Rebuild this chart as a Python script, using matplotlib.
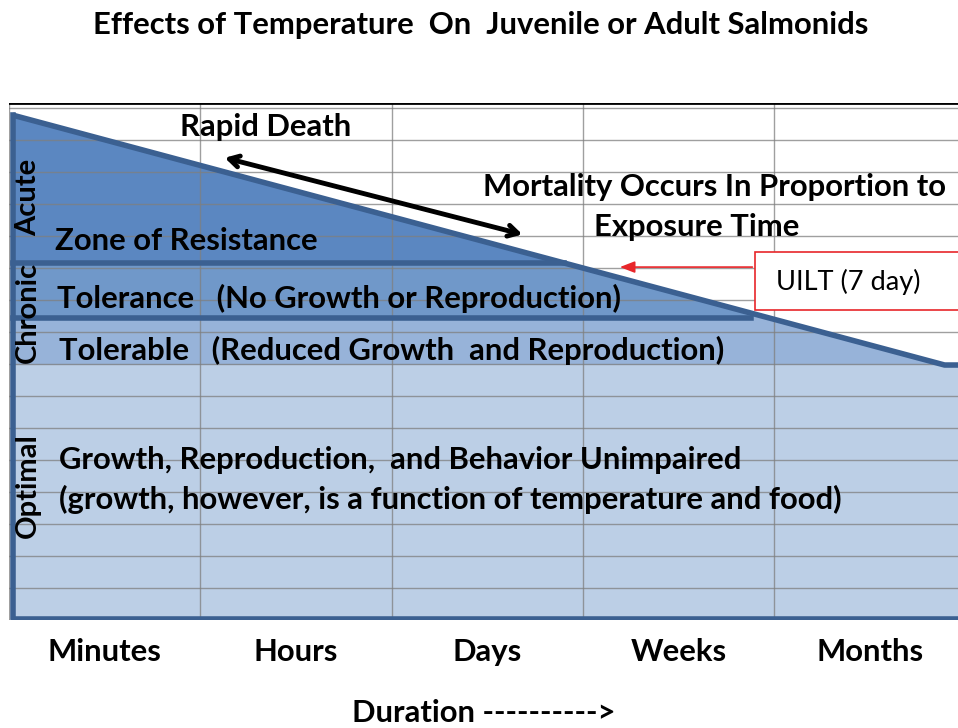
import matplotlib
matplotlib.use("Agg")
import matplotlib.pyplot as plt
from matplotlib.patches import Polygon, Rectangle

# ---- data (x in duration columns, y in grid rows) ----
categories = ["Minutes", "Hours", "Days", "Weeks", "Months"]
n_rows = 16
x_max = 4.96
y_max = 16.16

# lethal boundary (upper incipient line) endpoints: (x, y)
lethal_start = (0.02, 15.78)
lethal_end = (4.89, 7.97)

# zone boundaries (rows)
acute_bottom = 11.16       # top of Tolerance band
tolerance_bottom = 9.44    # top of Tolerable band
chronic_bottom = 7.97      # top of Optimal region
tolerance_right = 3.88     # right end of tolerance band line

zone_labels = ["Acute", "Chronic", "Optimal"]
zone_label_y = [13.2, 9.6, 4.2]

uilt_label = "UILT (7 day)"
title = "Effects of Temperature  On  Juvenile or Adult Salmonids"
xlabel = "Duration ---------->"

# ---- styles ----
c_acute = "#5b87c1"
c_tol = "#7098c9"
c_tolerable = "#97b3d9"
c_opt = "#bccfe6"
c_edge = "#3b6091"
grid_c = "#7f7f7f"
FONT = "Lato"

fig = plt.figure(figsize=(9.58, 7.28), dpi=100)
ax = fig.add_axes([9 / 958, 108 / 728, 949 / 958, 517 / 728])
ax.set_xlim(0, x_max)
ax.set_ylim(0, y_max)

def px(xp):
    return (xp - 9) / 191.3

def py(yp):
    return (620 - yp) / 32

# main shape
shape = [lethal_start, lethal_end, (x_max + 0.1, lethal_end[1]),
         (x_max + 0.1, 0), (lethal_start[0], 0)]
poly = Polygon(shape, closed=True, facecolor=c_acute, edgecolor="none", zorder=1)
ax.add_patch(poly)

bands = [
    (tolerance_bottom, acute_bottom, c_tol),
    (chronic_bottom, tolerance_bottom, c_tolerable),
    (0, chronic_bottom, c_opt),
]
for lo, hi, col in bands:
    r = Rectangle((0, lo), x_max + 0.2, hi - lo, facecolor=col, edgecolor="none", zorder=1.5)
    ax.add_patch(r)
    r.set_clip_path(poly)
r = Rectangle((tolerance_right, tolerance_bottom), x_max, acute_bottom - tolerance_bottom,
              facecolor=c_tolerable, edgecolor="none", zorder=1.6)
ax.add_patch(r)
r.set_clip_path(poly)

# grid
for i in range(n_rows + 1):
    ax.axhline(i, color=grid_c, lw=1.0, alpha=0.75, zorder=2)
for j in range(len(categories)):
    ax.axvline(j, color=grid_c, lw=1.0, alpha=0.75, zorder=2)
ax.axhline(y_max, color="black", lw=2.0, zorder=2)

# outlines
lw_edge = 4.0
ax.plot([lethal_start[0], lethal_end[0], x_max + 0.1],
        [lethal_start[1], lethal_end[1], lethal_end[1]], color=c_edge, lw=lw_edge,
        solid_capstyle="butt", zorder=3)
ax.plot([lethal_start[0], lethal_start[0], x_max + 0.1],
        [lethal_start[1], 0.04, 0.04], color=c_edge, lw=lw_edge, zorder=3)
slope = (lethal_end[1] - lethal_start[1]) / (lethal_end[0] - lethal_start[0])
x_int = lethal_start[0] + (acute_bottom - lethal_start[1]) / slope
ax.plot([lethal_start[0], x_int], [acute_bottom, acute_bottom], color=c_edge, lw=lw_edge, zorder=3)
ax.plot([lethal_start[0], tolerance_right], [tolerance_bottom, tolerance_bottom],
        color=c_edge, lw=lw_edge, zorder=3)

# rapid death arrow
ax.annotate("", xy=(px(222), py(157)), xytext=(px(525), py(235)),
            arrowprops=dict(arrowstyle="<->,head_length=0.7,head_width=0.4", color="black", lw=3.5),
            zorder=5)

fs = 22.3
tk = dict(fontfamily=FONT, fontweight="bold", fontsize=fs, color="black", zorder=6)
ax.text(px(180), py(127), "Rapid Death", ha="left", va="center", **tk)
ax.text(px(483), py(187), "Mortality Occurs In Proportion to", ha="left", va="center", **tk)
ax.text(px(697), py(227), "Exposure Time", ha="center", va="center", **tk)
ax.text(px(55), py(241), "Zone of Resistance", ha="left", va="center", **tk)
ax.text(px(57), py(298), "Tolerance   (No Growth or Reproduction)", ha="left", va="center", **tk)
ax.text(px(59), py(350), "Tolerable   (Reduced Growth  and Reproduction)", ha="left", va="center", **tk)
ax.text(px(59), py(460), "Growth, Reproduction,  and Behavior Unimpaired", ha="left", va="center", **tk)
ax.text(px(59), py(499), "(growth, however, is a function of temperature and food)", ha="left", va="center", **tk)

for lab, yy in zip(zone_labels, zone_label_y):
    ax.text(px(28), yy, lab, ha="center", va="center", rotation=90,
            fontfamily=FONT, fontweight="bold", fontsize=21, color="black", zorder=6)

# UILT callout
box = Rectangle((px(755), py(310)), px(990) - px(755), py(252) - py(310),
                facecolor="white", edgecolor="#e8262a", lw=1.2, zorder=6, clip_on=False)
ax.add_patch(box)
ax.text(px(776), py(282), uilt_label, ha="left", va="center", fontfamily=FONT,
        fontsize=19.5, color="black", zorder=7)
ax.annotate("", xy=(px(617), py(267)), xytext=(px(755), py(267)),
            arrowprops=dict(arrowstyle="-|>,head_length=0.9,head_width=0.35", color="#e8262a", lw=1.2),
            zorder=6)

# axes decorations
for s in ax.spines.values():
    s.set_visible(False)
ax.set_xticks([i + 0.5 for i in range(len(categories))])
ax.set_xticklabels(categories, fontfamily=FONT, fontweight="bold", fontsize=fs)
ax.tick_params(axis="x", length=0, pad=13)
ax.set_yticks([])
ax.set_xlabel(xlabel, fontfamily=FONT, fontweight="bold", fontsize=fs, labelpad=24)

fig.text(481 / 958, 1 - 25 / 728, title, ha="center", va="center", fontfamily=FONT,
         fontweight="bold", fontsize=fs)

fig.savefig("out.png", dpi=100)
